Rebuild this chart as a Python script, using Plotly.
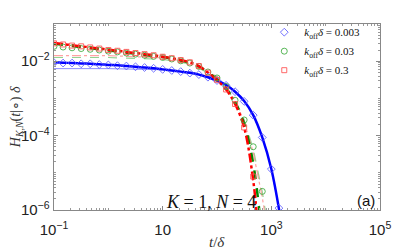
import numpy as np
import plotly.graph_objects as go

# time grid (t/delta) for curves
t_line = [0.1, 0.147, 0.215, 0.316, 0.464, 0.681, 1, 1.47, 2.15, 3.16, 4.64, 6.81,
          10, 14.7, 21.5, 31.6, 46.4, 68.1, 100, 147, 215, 316, 464, 681, 1000, 1468]

# log10 of H*delta (theory curves)
logH_blue = [-2.03, -2.04, -2.05, -2.06, -2.07, -2.08, -2.10, -2.11, -2.13, -2.15, -2.17, -2.19,
             -2.22, -2.25, -2.28, -2.31, -2.36, -2.43, -2.52, -2.64, -2.82, -3.07, -3.45, -4.05, -4.90, -6.2]
t_red = [0.1, 0.147, 0.215, 0.316, 0.464, 0.681, 1, 1.47, 2.15, 3.16, 4.64, 6.81,
         10, 14.7, 21.5, 31.6, 46.4, 68.1, 100, 147, 215, 316, 464, 560]
logH_red = [-1.51, -1.54, -1.57, -1.60, -1.63, -1.66, -1.69, -1.72, -1.75, -1.78, -1.81, -1.84,
            -1.88, -1.92, -1.97, -2.03, -2.13, -2.31, -2.51, -2.76, -3.15, -3.78, -5.2, -6.4]
t_green = [0.1, 0.147, 0.215, 0.316, 0.464, 0.681, 1, 1.47, 2.15, 3.16, 4.64, 6.81,
           10, 14.7, 21.5, 31.6, 46.4, 68.1, 100, 147, 215, 316, 464, 620]
logH_green = [-1.53, -1.56, -1.59, -1.62, -1.65, -1.68, -1.71, -1.74, -1.77, -1.80, -1.83, -1.86,
              -1.89, -1.93, -1.98, -2.04, -2.14, -2.30, -2.49, -2.73, -3.10, -3.68, -4.75, -6.2]

# long-time asymptotes (thin light lines)
t_asym = [0.1, 1, 10, 31.6, 100, 215, 316, 464, 681, 800, 1000, 1468]
logA_blue = [-2.20, -2.20, -2.23, -2.29, -2.47, -2.78, -3.05, -3.45, -4.04, -4.36, -4.90, -6.16]
logA_red = [-1.85, -1.85, -1.91, -2.03, -2.41, -3.05, -3.62, -4.45, -5.66, -6.3, None, None]
logA_green = [-1.90, -1.90, -1.95, -2.07, -2.43, -3.04, -3.57, -4.36, -5.51, -6.14, None, None]

# simulation points (markers)
t_sim = [0.1, 0.147, 0.215, 0.316, 0.464, 0.681, 1, 1.47, 2.15, 3.16, 4.64, 6.81,
         10, 14.7, 21.5, 31.6, 46.4, 68.1, 100, 147, 215, 316, 464, 681, 1000, 1380]
logS_blue = [-2.04, -2.05, -2.05, -2.07, -2.07, -2.09, -2.10, -2.12, -2.13, -2.15, -2.17, -2.19,
             -2.22, -2.25, -2.28, -2.32, -2.36, -2.43, -2.52, -2.65, -2.82, -3.08, -3.45, -4.05, -4.90, -5.95]
logS_red = [-1.52, -1.55, -1.58, -1.60, -1.63, -1.66, -1.70, -1.72, -1.75, -1.78, -1.81, -1.84,
            -1.88, -1.92, -1.97, -2.03, -2.13, -2.31, -2.50, -2.76, -3.15, -3.78, -5.1, None, None, None]
logS_green = [-1.60, -1.62, -1.64, -1.66, -1.68, -1.70, -1.73, -1.75, -1.78, -1.81, -1.84, -1.87,
              -1.90, -1.94, -1.99, -2.05, -2.14, -2.29, -2.45, -2.68, -3.05, -3.58, -4.3, -5.5, None, None]

labels = ["<i>k</i><sub>off</sub><i>δ</i> = 0.003",
          "<i>k</i><sub>off</sub><i>δ</i> = 0.03",
          "<i>k</i><sub>off</sub><i>δ</i> = 0.3"]


def pw(vals):
    return [None if v is None else 10 ** v for v in vals]


fig = go.Figure()
# thin asymptotes
fig.add_trace(go.Scatter(x=t_asym, y=pw(logA_blue), mode="lines", showlegend=False,
                         line=dict(color="rgba(110,110,255,0.8)", width=1)))
fig.add_trace(go.Scatter(x=t_asym, y=pw(logA_green), mode="lines", showlegend=False,
                         line=dict(color="rgba(120,200,120,0.8)", width=1.2, dash="dash")))
fig.add_trace(go.Scatter(x=t_asym, y=pw(logA_red), mode="lines", showlegend=False,
                         line=dict(color="rgba(255,140,140,0.8)", width=1.2, dash="dashdot")))
# theory curves
fig.add_trace(go.Scatter(x=t_line, y=pw(logH_blue), mode="lines", showlegend=False,
                         line=dict(color="#0000ff", width=2.5, shape="spline")))
fig.add_trace(go.Scatter(x=t_green, y=pw(logH_green), mode="lines", showlegend=False,
                         line=dict(color="#008a00", width=2.5, dash="dash", shape="spline")))
fig.add_trace(go.Scatter(x=t_red, y=pw(logH_red), mode="lines", showlegend=False,
                         line=dict(color="#ff0000", width=2.5, dash="dashdot", shape="spline")))
# simulation markers
fig.add_trace(go.Scatter(x=t_sim, y=pw(logS_blue), mode="markers", name=labels[0],
                         marker=dict(symbol="diamond-open", size=6, color="rgba(90,90,255,0.85)",
                                     line=dict(width=1))))
fig.add_trace(go.Scatter(x=t_sim, y=pw(logS_green), mode="markers", name=labels[1],
                         marker=dict(symbol="circle-open", size=6, color="rgba(60,170,60,0.85)",
                                     line=dict(width=1))))
fig.add_trace(go.Scatter(x=t_sim, y=pw(logS_red), mode="markers", name=labels[2],
                         marker=dict(symbol="square-open", size=5, color="rgba(255,80,80,0.85)",
                                     line=dict(width=1))))

axis_common = dict(type="log", showgrid=False, zeroline=False, showline=True, linecolor="#888",
                   linewidth=1, mirror="ticks", ticks="inside", ticklen=4, tickcolor="#888",
                   automargin=False,
                   exponentformat="power", tickfont=dict(family="Liberation Sans", size=12, color="#222"),
                   minor=dict(ticks="inside", ticklen=2, tickcolor="#999", dtick="D1"))

fig.update_xaxes(range=[-1, 5], dtick=2, tick0=-1, ticklabelstandoff=7, **axis_common)
fig.update_yaxes(range=[-6, -1], dtick=2, tick0=-6, ticklabelstandoff=1, **axis_common)

fig.add_annotation(x=0.5, y=-0.17, xref="paper", yref="paper", xanchor="center", yanchor="middle",
                   text="<i>t</i>/<i>δ</i>", showarrow=False,
                   font=dict(family="Liberation Serif", size=15, color="#333"))
fig.add_annotation(x=-0.116, y=0.5, xref="paper", yref="paper", xanchor="center", yanchor="middle",
                   text="<i>H</i><sub><i>K</i>,<i>N</i></sub>(<i>t</i>|∘) <i>δ</i>", showarrow=False,
                   textangle=-90, font=dict(family="Liberation Serif", size=14, color="#333"))
fig.add_annotation(x=0.626, y=0.0, xref="paper", yref="paper", xanchor="right", yanchor="bottom",
                   text="<i>K</i> = 1, <i>N</i> = 4", showarrow=False, yshift=-4,
                   font=dict(family="Liberation Serif", size=18, color="#111"))
fig.add_annotation(x=0.99, y=0.0, xref="paper", yref="paper", xanchor="right", yanchor="bottom",
                   text="(a)", showarrow=False, yshift=-1,
                   font=dict(family="Liberation Sans", size=15, color="#111"))

# page body has an 8px default margin, so the figure is sized to compensate
fig.update_layout(width=412, height=244, margin=dict(l=46, r=40, t=10, b=42),
                  paper_bgcolor="white", plot_bgcolor="white",
                  legend=dict(x=0.645, y=1.034, xanchor="left", yanchor="top", bgcolor="rgba(0,0,0,0)",
                              font=dict(family="Liberation Serif", size=11, color="#111"),
                              itemwidth=30, tracegroupgap=0))

fig.write_html("out.html")
